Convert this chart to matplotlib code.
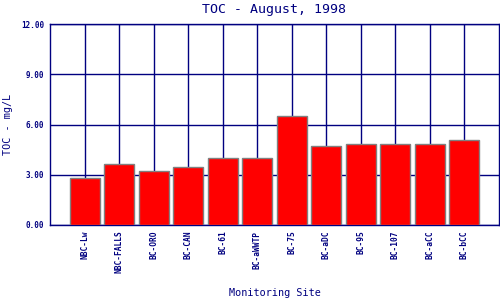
import matplotlib
matplotlib.use('Agg')
import matplotlib.pyplot as plt

sites = ['NBC-Lw', 'NBC-FALLS', 'BC-ORO', 'BC-CAN', 'BC-61', 'BC-aWWTP',
         'BC-75', 'BC-aDC', 'BC-95', 'BC-107', 'BC-aCC', 'BC-bCC']
toc = [2.80, 3.62, 3.22, 3.46, 3.98, 3.98, 6.50, 4.70, 4.82, 4.82, 4.82, 5.06]
yticks = [0, 3, 6, 9, 12]

navy = '#000080'
plt.rcParams['font.family'] = 'DejaVu Sans Mono'

fig = plt.figure(figsize=(5, 3), dpi=100)
ax = fig.add_axes([0.1, 0.25, 0.898, 0.67])

pos = list(range(1, len(sites) + 1))
ax.bar(pos, toc, width=0.87, color='red', edgecolor='grey', linewidth=1, zorder=3)

ax.set_xlim(0, len(sites) + 1)
ax.set_ylim(0, 12)
ax.set_xticks(pos)
ax.set_xticklabels(sites, rotation=90, fontsize=5.7, color=navy, fontweight='bold')
ax.set_yticks(yticks)
ax.set_yticklabels([f'{v:.2f}' for v in yticks], fontsize=5.5, color=navy, fontweight='bold')
ax.tick_params(length=0, pad=4)
ax.grid(True, color=navy, linewidth=1, zorder=0)
ax.set_axisbelow(True)
for s in ax.spines.values():
    s.set_color(navy)
    s.set_linewidth(1)

ax.set_title('TOC - August, 1998', fontsize=9.5, color=navy, pad=8)
ax.set_ylabel('TOC - mg/L', fontsize=7.3, color=navy)
ax.yaxis.set_label_coords(-0.082, 0.5)
ax.set_xlabel('Monitoring Site', fontsize=7.3, color=navy)
ax.xaxis.set_label_coords(0.5, -0.315)

fig.savefig('out.png')
